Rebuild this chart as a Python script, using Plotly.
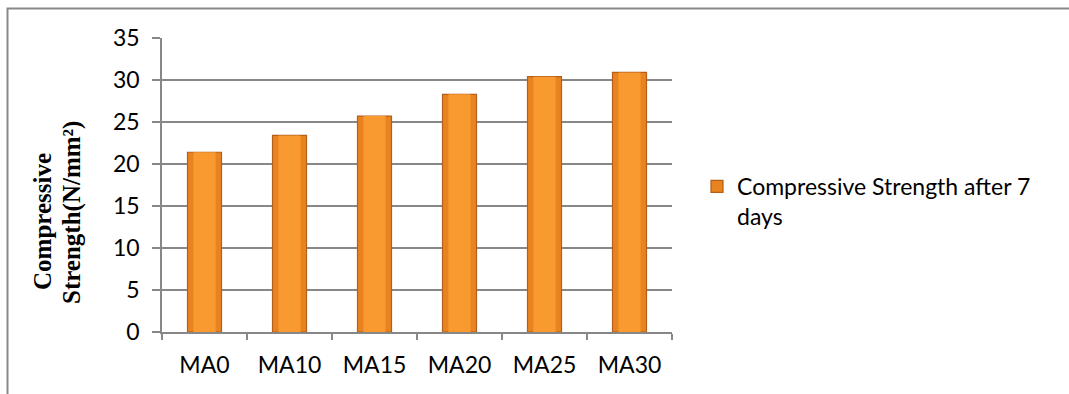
import plotly.graph_objects as go

# Mix designs and 7-day compressive strength (N/mm²)
mixes = ["MA0", "MA10", "MA15", "MA20", "MA25", "MA30"]
strength_7d = [21.4, 23.4, 25.7, 28.3, 30.4, 30.9]
y_ticks = [0, 5, 10, 15, 20, 25, 30, 35]

series_name = "Compressive Strength after 7<br>days"

W, H = 1069, 394
L, R, T, B = 162, 397, 38, 62
plot_w = W - L - R


def px_to_paper_x(px):
    return (px - L) / plot_w


def px_to_paper_y(py):
    return (H - B - py) / (H - T - B)


fig = go.Figure()

# main bar body
fig.add_trace(go.Bar(
    x=mixes, y=strength_7d, name=series_name, width=0.4,
    marker=dict(color="#E9831F", line=dict(color="#B45F1C", width=1.2)),
    hoverinfo="x+y",
))
# lighter centre strip for a rounded, shaded look
fig.add_trace(go.Bar(
    x=mixes, y=strength_7d, width=0.26, showlegend=False,
    marker=dict(color="#F89A30", line=dict(width=0)),
    hoverinfo="skip",
))

gray = "#878787"
tick_font = dict(family="Lato, Open Sans, sans-serif", size=23, color="#000000")
title_font = dict(family="Liberation Serif, Times New Roman, serif", size=25, color="#000000")

fig.update_layout(
    width=W, height=H,
    margin=dict(l=L, r=R, t=T, b=B),
    paper_bgcolor="white", plot_bgcolor="white",
    barmode="overlay",
    showlegend=True,
    legend=dict(
        x=px_to_paper_x(697), y=px_to_paper_y(165), xanchor="left", yanchor="top",
        font=dict(family="Lato, Open Sans, sans-serif", size=23, color="#000000"),
        bgcolor="rgba(0,0,0,0)", itemwidth=30, valign="top",
        traceorder="normal",
    ),
    xaxis=dict(
        type="category",
        showline=True, linecolor=gray, linewidth=1.5,
        ticks="outside", ticklen=6, tickcolor=gray, tickwidth=1.5,
        tickson="boundaries",
        showgrid=False,
        tickfont=tick_font,
        ticklabelstandoff=12,
    ),
    yaxis=dict(
        range=[0, 35], tickvals=y_ticks,
        showline=True, linecolor=gray, linewidth=1.5,
        ticks="outside", ticklen=8, tickcolor=gray, tickwidth=1.5,
        showgrid=True, gridcolor=gray, gridwidth=1.5,
        zeroline=False,
        tickfont=tick_font,
        ticklabelstandoff=8,
    ),
    annotations=[
        dict(text="<b>Compressive</b>", textangle=-90,
             xref="paper", yref="paper",
             x=px_to_paper_x(42), y=px_to_paper_y(222),
             xanchor="center", yanchor="middle", showarrow=False,
             font=title_font),
        dict(text="<b>Strength(N/mm²)</b>", textangle=-90,
             xref="paper", yref="paper",
             x=px_to_paper_x(72), y=px_to_paper_y(213),
             xanchor="center", yanchor="middle", showarrow=False,
             font=title_font),
    ],
    shapes=[
        # chart frame
        dict(type="rect", xref="paper", yref="paper", layer="below",
             x0=px_to_paper_x(7.5), y0=px_to_paper_y(420),
             x1=px_to_paper_x(1090), y1=px_to_paper_y(8.5),
             line=dict(color="#888888", width=2), fillcolor="rgba(0,0,0,0)"),
    ],
)

fig.write_html("out.html")
